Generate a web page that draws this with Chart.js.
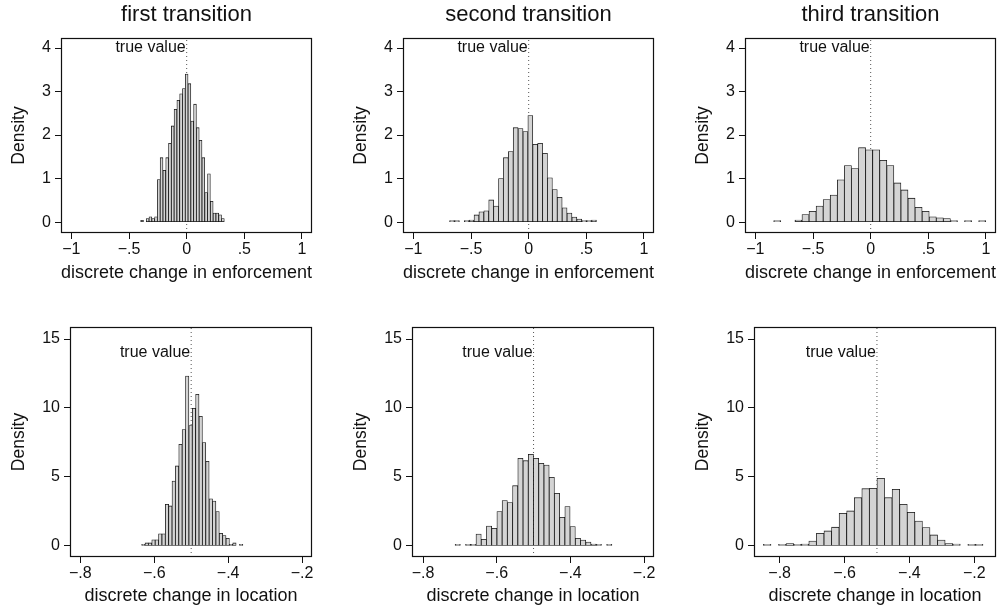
<!DOCTYPE html>
<html>
<head>
<meta charset="utf-8">
<script src="https://cdn.jsdelivr.net/npm/chart.js@4.4.1/dist/chart.umd.min.js"></script>
<style>
  body { margin: 0; background: #fff; }
  #wrap { position: relative; width: 1002px; height: 612px; }
  #wrap canvas { position: absolute; }
</style>
</head>
<body>
<div id="wrap"></div>
<script>
// histogram densities, 30 bins per panel
const enfFirst  = [0.041, 0, 0.083, 0.124, 0.083, 0.124, 0.98, 1.48, 1.19, 1.48, 1.81, 2.21, 2.59, 2.80, 2.95, 3.07, 3.40, 3.18, 2.32, 2.71, 2.17, 1.88, 1.48, 0.68, 1.11, 0.48, 0.21, 0.21, 0.166, 0.083];
const enfSecond = [0.024, 0.024, 0, 0.024, 0.047, 0.165, 0.236, 0.26, 0.51, 0.37, 1.0, 1.48, 1.62, 2.17, 2.15, 2.08, 2.45, 1.79, 1.81, 1.58, 1.02, 0.75, 0.57, 0.33, 0.21, 0.118, 0.071, 0.024, 0.024, 0.047];
const enfThird  = [0.016, 0, 0, 0.049, 0.176, 0.25, 0.37, 0.52, 0.62, 0.97, 1.30, 1.23, 1.71, 1.66, 1.66, 1.42, 1.30, 0.90, 0.74, 0.55, 0.34, 0.25, 0.12, 0.10, 0.081, 0.016, 0, 0.016, 0, 0.016];
const locFirst  = [0.11, 0.22, 0.22, 0.44, 0.44, 0.88, 0.88, 3.02, 2.90, 4.71, 5.80, 7.37, 8.43, 12.32, 8.72, 9.98, 10.99, 9.4, 7.49, 6.13, 3.42, 3.26, 2.49, 0.92, 0.75, 0.56, 0.11, 0.22, 0, 0.11];
const locSecond = [0.07, 0, 0.07, 0.07, 0.87, 0.48, 1.45, 1.28, 2.49, 3.29, 3.14, 4.37, 6.35, 6.18, 6.64, 6.35, 5.99, 5.87, 4.98, 3.82, 2.08, 2.85, 1.40, 0.56, 0.43, 0.28, 0.14, 0.07, 0, 0.07];
const locThird  = [0.043, 0, 0.043, 0.17, 0.086, 0.13, 0.36, 0.92, 1.09, 1.36, 2.37, 2.54, 3.50, 4.15, 4.18, 4.90, 3.50, 4.11, 3.02, 2.44, 1.81, 1.33, 0.80, 0.43, 0.17, 0.13, 0, 0.043, 0.043, 0];

// first bin edge and bin width of each histogram
const binStarts = [-0.399, -0.686, -0.841, -0.634, -0.713, -0.850];
const binWidths = [0.02417, 0.04245, 0.0613, 0.00913, 0.01419, 0.02334];

const colTitles = ['first transition', 'second transition', 'third transition'];
const enfTitle = 'discrete change in enforcement';
const locTitle = 'discrete change in location';
const enfTrue = 0, locTrue = -0.5;

const enfXTicks = [-1, -0.5, 0, 0.5, 1];
const enfXLabels = ['\u22121', '\u2212.5', '0', '.5', '1'];
const locXTicks = [-0.8, -0.6, -0.4, -0.2];
const locXLabels = ['\u2212.8', '\u2212.6', '\u2212.4', '\u2212.2'];
const enfYTicks = [0, 1, 2, 3, 4];
const locYTicks = [0, 5, 10, 15];

const family = "'Liberation Sans', Arial, Helvetica, sans-serif";
const ink = '#111';
const wrap = document.getElementById('wrap');

// frame around the plot region + "true value" note
const panelDecor = {
    id: 'panelDecor',
    afterDatasetsDraw(chart, args, o) {
        const { ctx, chartArea: a, scales: { x, y } } = chart;
        ctx.save();
        ctx.font = '16px ' + family;
        ctx.fillStyle = ink;
        ctx.textAlign = 'right';
        ctx.textBaseline = 'middle';
        ctx.fillText('true value', x.getPixelForValue(o.trueVal) - 1, y.getPixelForValue(o.textY));
        ctx.strokeStyle = ink;
        ctx.lineWidth = 1.2;
        ctx.strokeRect(a.left + 0.5, a.top + 0.5, a.width - 1, a.height - 1);
        ctx.restore();
    }
};

function makePanel(p) {
    const canvas = document.createElement('canvas');
    canvas.width = 318;
    canvas.height = 306;
    canvas.style.left = p.left + 'px';
    canvas.style.top = p.top + 'px';
    wrap.appendChild(canvas);

    const bars = p.values.map((v, i) => ({ x: p.start + p.width * (i + 0.5), y: v > 0 ? v : null }));

    new Chart(canvas.getContext('2d'), {
        type: 'bar',
        data: {
            datasets: [{
                type: 'bar',
                data: bars,
                backgroundColor: '#d4d4d4',
                borderColor: '#111',
                borderWidth: 0.8,
                borderSkipped: false,
                barPercentage: 1,
                categoryPercentage: 1,
                minBarLength: 1.6,
                order: 1
            }, {
                type: 'line',
                data: [{ x: p.trueVal, y: p.yMin }, { x: p.trueVal, y: p.yMax }],
                borderColor: '#555',
                borderWidth: 1,
                borderDash: [1, 3],
                pointRadius: 0,
                fill: false,
                order: 2
            }]
        },
        options: {
            responsive: false,
            animation: false,
            layout: { padding: { left: 0, right: 6, top: p.padTop, bottom: 0 } },
            plugins: {
                legend: { display: false },
                tooltip: { enabled: false },
                title: {
                    display: !!p.title,
                    text: p.title,
                    fullSize: false,
                    color: ink,
                    font: { family: family, size: 22, weight: 'normal', lineHeight: 1.2 },
                    padding: { top: 1.8, bottom: 9.8 }
                },
                panelDecor: { trueVal: p.trueVal, textY: p.textY }
            },
            scales: {
                x: {
                    type: 'linear',
                    min: p.xMin,
                    max: p.xMax,
                    offset: false,
                    afterBuildTicks: s => { s.ticks = p.xTicks.map(v => ({ value: v })); },
                    afterFit: s => { s.height = p.xAxisH; s.paddingLeft = 0; s.paddingRight = 0; },
                    grid: { drawOnChartArea: false, drawTicks: true, tickLength: 6, color: ink, offset: false },
                    border: { display: false },
                    ticks: {
                        autoSkip: false,
                        maxRotation: 0,
                        padding: 3,
                        color: ink,
                        font: { family: family, size: 16, lineHeight: 1 },
                        callback: (v, i) => p.xLabels[i]
                    },
                    title: {
                        display: true,
                        text: p.xTitle,
                        color: ink,
                        font: { family: family, size: 18, lineHeight: 1.2 },
                        padding: { top: 0, bottom: p.xTitlePad }
                    }
                },
                y: {
                    type: 'linear',
                    min: p.yMin,
                    max: p.yMax,
                    afterBuildTicks: s => { s.ticks = p.yTicks.map(v => ({ value: v })); },
                    afterFit: s => { s.width = p.yAxisW; s.paddingTop = 0; s.paddingBottom = 0; },
                    grid: { drawOnChartArea: false, drawTicks: true, tickLength: 6, color: ink },
                    border: { display: false },
                    ticks: {
                        padding: 4,
                        color: ink,
                        font: { family: family, size: 16, lineHeight: 1 },
                        callback: (v, i) => String(p.yTicks[i])
                    },
                    title: {
                        display: true,
                        text: 'Density',
                        color: ink,
                        font: { family: family, size: 17.5, lineHeight: 1.2 },
                        padding: { top: 8.5, bottom: 0 }
                    }
                }
            }
        },
        plugins: [panelDecor]
    });
}

const colLefts = [0, 342, 684];
const enfSeries = [enfFirst, enfSecond, enfThird];
const locSeries = [locFirst, locSecond, locThird];

enfSeries.forEach((vals, c) => makePanel({
    left: colLefts[c], top: 0, padTop: 0, title: colTitles[c],
    values: vals, start: binStarts[c], width: binWidths[c],
    xMin: -1.09, xMax: 1.087, xTicks: enfXTicks, xLabels: enfXLabels, xTitle: enfTitle,
    yMin: -0.25, yMax: 4.23, yTicks: enfYTicks,
    trueVal: enfTrue, textY: 4.0,
    xAxisH: 73, xTitlePad: 22.2, yAxisW: 61
}));

const locRanges = [[-0.828, -0.173], [-0.830, -0.173], [-0.879, -0.133]];
locSeries.forEach((vals, c) => makePanel({
    left: colLefts[c], top: 306, padTop: 21, title: '',
    values: vals, start: binStarts[c + 3], width: binWidths[c + 3],
    xMin: locRanges[c][0], xMax: locRanges[c][1], xTicks: locXTicks, xLabels: locXLabels, xTitle: locTitle,
    yMin: -0.8, yMax: 15.87, yTicks: locYTicks,
    trueVal: locTrue, textY: 14.0,
    xAxisH: 55, xTitlePad: 5.2, yAxisW: 70
}));
</script>
</body>
</html>
